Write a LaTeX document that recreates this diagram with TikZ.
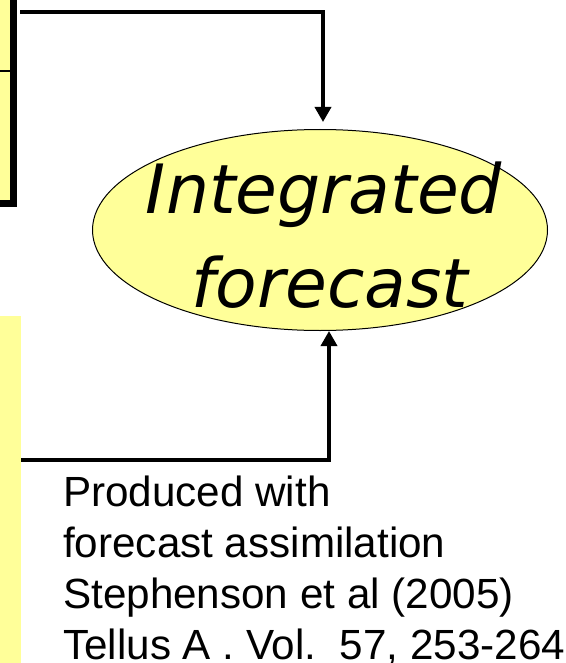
\documentclass[tikz,border=0pt]{standalone}
\usepackage{fontspec}
\setmainfont{Liberation Sans}
\newfontfamily\ellfont{DejaVu Sans Oblique}
\usetikzlibrary{shapes.geometric,arrows.meta}
\definecolor{paleyellow}{HTML}{FFFF99}
\tikzset{
  srcbox/.style={draw=black, fill=paleyellow, line width=7pt, inner sep=0pt, outer sep=0pt},
  plainbox/.style={fill=paleyellow, inner sep=0pt, outer sep=0pt},
  fcell/.style={ellipse, draw=black, fill=paleyellow, line width=1pt, inner sep=0pt,
    minimum width=455pt, minimum height=201pt},
  elltext/.style={font=\ellfont\fontsize{68}{82}\selectfont, inner sep=0pt, anchor=base},
  notetext/.style={font=\fontsize{42.2}{51}\selectfont, align=left, inner sep=0pt, anchor=base west},
  conn/.style={line width=3.5pt, -{Triangle[width=16pt,length=15pt]}}
}
\begin{document}
\begin{tikzpicture}[x=1pt,y=-1pt]
\useasboundingbox (0,0) rectangle (565,663);
% partial box at top left
\node[srcbox, minimum width=163.5pt, minimum height=303.5pt, anchor=north east] (topbox) at (13.5,-100) {};
\draw[line width=2pt] (-60,71) -- (10,71);
% partial box at bottom left
\node[plainbox, minimum width=71pt, minimum height=400pt, anchor=north east] (botbox) at (21,316) {};
% ellipse
\node[fcell] (ell) at (320,230) {};
\node[elltext] (t1) at (324,213) {Integrated};
\node[elltext] (t2) at (330,307) {forecast};
% connectors
\coordinate (c1) at (20,12);
\draw[conn] (c1) -| ([xshift=3pt,yshift=7pt]ell.north);
\coordinate (c2) at (21,460);
\draw[conn] (c2) -| ([xshift=9pt]ell.south);
% note
\node[notetext] (note) at (63,659) {Produced with\\forecast assimilation\\Stephenson et al (2005)\\Tellus A . Vol.\ \ 57, 253-264};
\end{tikzpicture}
\end{document}
